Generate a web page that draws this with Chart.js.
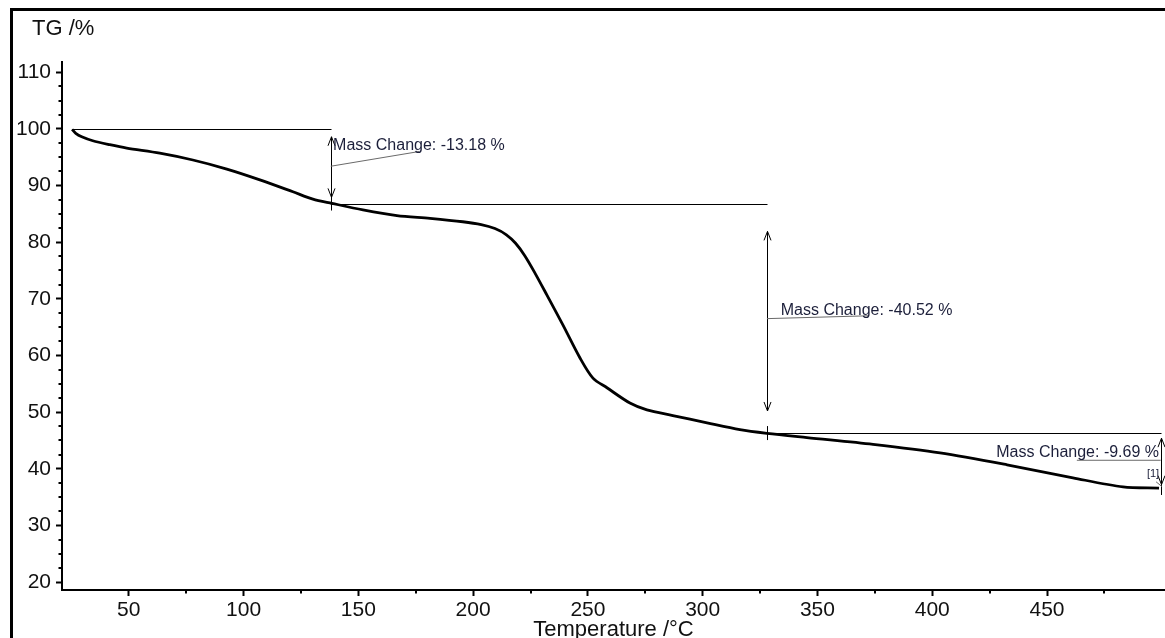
<!DOCTYPE html>
<html>
<head>
<meta charset="utf-8">
<script src="https://cdn.jsdelivr.net/npm/chart.js@4.4.1/dist/chart.umd.min.js"></script>
<style>
  html, body { margin: 0; padding: 0; background: #fff; }
  #tg { display: block; }
</style>
</head>
<body>
<canvas id="tg" width="1165" height="638"></canvas>
<script>
// TG curve (temperature in °C, mass in %)
const temperature = [25.3, 26.9, 29.5, 34.3, 41.7, 49.1, 63.5, 77.9, 92.7, 107.1, 121.5, 130.2, 138.5,
  152, 166.8, 181.2, 195.5, 203.5, 209.5, 214.5, 218.5, 222.5, 227, 232.1, 239.1, 246.5, 252.2, 258.3, 268.3,
  275.7, 287, 301.9, 316.2, 328, 345.4, 374.2, 403.4, 432.6, 461.3, 483.1, 498.8]
const mass = [99.9, 99.2, 98.6, 97.9, 97.2, 96.6, 95.7, 94.5, 92.9, 91.0, 88.9, 87.6, 86.85,
  85.7, 84.7, 84.2, 83.6, 83.1, 82.4, 81.3, 79.8, 77.6, 74.5, 70.7, 65.4, 59.6, 56.0, 54.3, 51.6,
  50.4, 49.4, 48.1, 46.9, 46.25, 45.5, 44.3, 42.8, 40.7, 38.4, 36.8, 36.6]

const xTicks = [50, 100, 150, 200, 250, 300, 350, 400, 450]
const yTicks = [20, 30, 40, 50, 60, 70, 80, 90, 100, 110]

// mass change steps
const stepTemps = [25.3, 138, 328, 499.5]
const stepMasses = [100, 86.82, 46.30, 36.61]
const massChanges = ['-13.18', '-40.52', '-9.69']
const arrowTops = [98.6, 81.9, 45.4]
const arrowBottoms = [87.9, 50.2, 37.2]

const FONT = "'Liberation Sans', Arial, sans-serif"
const INK = '#1c1f3a'

// where the labels and their leader lines sit, in data units
const labelSpots = [
  {lead: [[138, 93.4], [176.5, 96.0]], at: [139, 96.3], align: 'left'},
  {lead: [[328, 66.5], [372, 67.0]], at: [334, 67.15], align: 'left'},
  {lead: [[463, 41.5], [499.5, 41.5]], at: [498.8, 42.1], align: 'right'}
]

const arrowHead = (ctx, x, y, dir) => {
  ctx.beginPath()
  ctx.moveTo(x - 3.5, y + dir * 9)
  ctx.lineTo(x, y)
  ctx.lineTo(x + 3.5, y + dir * 9)
  ctx.stroke()
}

const stepsPlugin = {
  id: 'steps',
  beforeDraw(chart) {
    const ctx = chart.ctx
    ctx.save()
    ctx.fillStyle = '#fff'
    ctx.fillRect(0, 0, chart.width, chart.height)
    // outer frame
    ctx.fillStyle = '#000'
    ctx.fillRect(10, 8, chart.width - 10, 3)
    ctx.fillRect(10, 8, 3, chart.height - 8)
    ctx.restore()
  },
  afterDraw(chart) {
    const {ctx, scales: {x, y}} = chart
    ctx.save()
    // minor ticks
    ctx.strokeStyle = '#000'
    ctx.lineWidth = 2
    ctx.beginPath()
    for (let v = 22.5; v < 112; v += 2.5) {
      if (v % 10 === 0) continue
      const py = Math.round(y.getPixelForValue(v))
      ctx.moveTo(x.left, py)
      ctx.lineTo(x.left - 3.5, py)
    }
    for (let v = 75; v < 500; v += 50) {
      const px = Math.round(x.getPixelForValue(v))
      ctx.moveTo(px, y.bottom)
      ctx.lineTo(px, y.bottom + 3.5)
    }
    ctx.stroke()

    // step baselines, arrows and crosses
    ctx.lineWidth = 1
    ctx.strokeStyle = '#000'
    for (let i = 0; i < massChanges.length; i++) {
      const x0 = x.getPixelForValue(stepTemps[i])
      const x1 = Math.round(x.getPixelForValue(stepTemps[i + 1])) + 0.5
      const yh = Math.round(y.getPixelForValue(stepMasses[i])) + 0.5
      ctx.beginPath()
      ctx.moveTo(x0, yh)
      ctx.lineTo(x1, yh)
      ctx.stroke()

      const yt = y.getPixelForValue(arrowTops[i])
      const yb = y.getPixelForValue(arrowBottoms[i])
      ctx.beginPath()
      ctx.moveTo(x1, yt)
      ctx.lineTo(x1, yb)
      ctx.stroke()
      arrowHead(ctx, x1, yt, 1)
      arrowHead(ctx, x1, yb, -1)

      const yc = y.getPixelForValue(stepMasses[i + 1])
      ctx.beginPath()
      ctx.moveTo(x1, yc - 7)
      ctx.lineTo(x1, yc + 7)
      ctx.stroke()
    }

    // leader lines and texts
    ctx.font = '16px ' + FONT
    ctx.textBaseline = 'alphabetic'
    labelSpots.forEach((s, i) => {
      ctx.strokeStyle = '#6a6a6a'
      ctx.beginPath()
      ctx.moveTo(x.getPixelForValue(s.lead[0][0]), y.getPixelForValue(s.lead[0][1]))
      ctx.lineTo(x.getPixelForValue(s.lead[1][0]), y.getPixelForValue(s.lead[1][1]))
      ctx.stroke()
      ctx.fillStyle = INK
      ctx.textAlign = s.align
      ctx.fillText('Mass Change: ' + massChanges[i] + ' %', x.getPixelForValue(s.at[0]), y.getPixelForValue(s.at[1]))
    })
    // curve tag
    ctx.font = '11px ' + FONT
    ctx.textAlign = 'center'
    ctx.textBaseline = 'middle'
    ctx.fillText('[1]', x.getPixelForValue(496.2), y.getPixelForValue(39.1))
    ctx.strokeStyle = '#6a6a6a'
    ctx.beginPath()
    ctx.moveTo(x.getPixelForValue(497.5), y.getPixelForValue(37.7))
    ctx.lineTo(x.getPixelForValue(500.1), y.getPixelForValue(36.85))
    ctx.stroke()

    // y axis caption
    ctx.fillStyle = '#111'
    ctx.font = '22px ' + FONT
    ctx.textAlign = 'left'
    ctx.fillText('TG /%', 32, 29)
    ctx.restore()
  }
}

const ctx = document.getElementById('tg').getContext('2d')
new Chart(ctx, {
  type: 'line',
  data: {
    datasets: [{
      data: temperature.map((t, i) => ({x: t, y: mass[i]})),
      borderColor: '#000',
      borderWidth: 2.8,
      pointRadius: 0,
      fill: false,
      tension: 0.3
    }]
  },
  options: {
    responsive: false,
    animation: false,
    devicePixelRatio: 1,
    layout: {padding: {top: 62, left: 0, right: 0, bottom: 0}},
    plugins: {legend: {display: false}, tooltip: {enabled: false}},
    scales: {
      x: {
        type: 'linear',
        min: 20.9,
        max: 501.4,
        afterBuildTicks: s => { s.ticks = xTicks.map(v => ({value: v})) },
        afterFit: s => { s.height = 48 },
        ticks: {autoSkip: false, maxRotation: 0, padding: 2, color: '#111', font: {family: FONT, size: 21}},
        grid: {drawOnChartArea: false, drawTicks: true, tickLength: 6, tickColor: '#000', tickWidth: 2},
        border: {display: true, color: '#000', width: 2},
        title: {display: true, text: 'Temperature /°C', color: '#111',
          font: {family: FONT, size: 22, lineHeight: 1}, padding: {top: 0, bottom: -3}}
      },
      y: {
        min: 18.6,
        max: 111.8,
        afterBuildTicks: s => { s.ticks = yTicks.map(v => ({value: v})) },
        afterFit: s => { s.width = 62 },
        ticks: {autoSkip: false, padding: 5, color: '#111', font: {family: FONT, size: 21}},
        grid: {drawOnChartArea: false, drawTicks: true, tickLength: 6, tickColor: '#000', tickWidth: 2},
        border: {display: true, color: '#000', width: 2}
      }
    }
  },
  plugins: [stepsPlugin]
})
</script>
</body>
</html>
